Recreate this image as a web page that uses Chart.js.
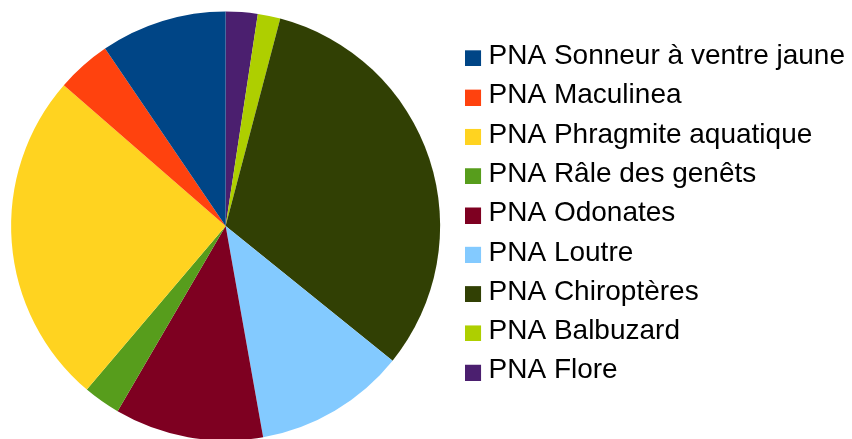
<!DOCTYPE html>
<html><head><meta charset="utf-8">
<script src="https://cdn.jsdelivr.net/npm/chart.js@4/dist/chart.umd.min.js"></script>
<style>html,body{margin:0;padding:0;background:#fff;overflow:hidden;width:852px;height:439px}#wrap{position:absolute;left:-11px;top:0;width:866px;height:439px}</style>
</head><body><div id="wrap"><canvas id="c"></canvas></div>
<script>
const categories = ['PNA Sonneur à ventre jaune','PNA Maculinea','PNA Phragmite aquatique','PNA Râle des genêts','PNA Odonates','PNA Loutre','PNA Chiroptères','PNA Balbuzard','PNA Flore'];
const values = [9.5, 4.1, 25.2, 2.8, 11.2, 11.4, 31.7, 1.7, 2.4];
const colors = ['#004586','#ff420e','#ffd320','#579d1c','#7e0021','#83caff','#314004','#aecf00','#4b1f6f'];

// slices run counter-clockwise in the reference: feed Chart.js the reversed order
const dsLabels = categories.slice().reverse();
const dsValues = values.slice().reverse();
const dsColors = colors.slice().reverse();

function swatch(color){
  const c = document.createElement('canvas');
  c.width = 18; c.height = 20;
  const g = c.getContext('2d');
  g.fillStyle = color; g.fillRect(0, 4, 16, 16);
  return c;
}

new Chart(document.getElementById('c'), {
  type: 'pie',
  data: { labels: dsLabels, datasets: [{ data: dsValues, backgroundColor: dsColors, borderWidth: 0, radius: 214.5 }] },
  options: {
    responsive: true, maintainAspectRatio: false, animation: false,
    layout: { padding: { left: 0, right: 0, top: 31, bottom: 18 } },
    plugins: {
      tooltip: { enabled: false },
      legend: {
        position: 'right', align: 'start', reverse: true,
        labels: {
          usePointStyle: true, pointStyleWidth: 1, padding: 11.3, color: '#000',
          font: { family: 'Liberation Sans', size: 28 },
          generateLabels: (chart) => Chart.overrides.pie.plugins.legend.labels.generateLabels(chart)
            .map(l => Object.assign({}, l, { pointStyle: swatch(l.fillStyle) }))
        }
      }
    }
  }
});
</script></body></html>
